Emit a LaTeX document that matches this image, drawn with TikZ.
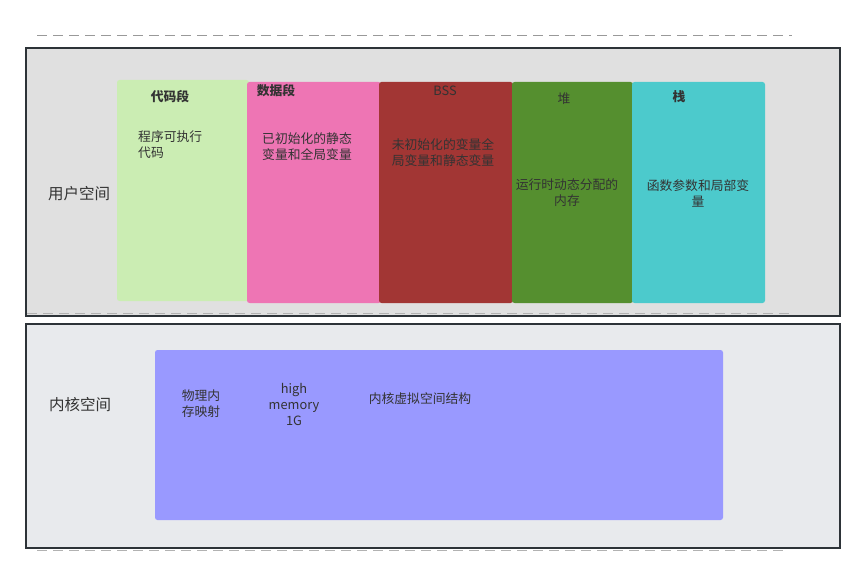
\documentclass[tikz,border=0pt]{standalone}
\usepackage{fontspec}
\setmainfont{Noto Sans CJK SC}
\begin{document}
\begin{tikzpicture}[x=1pt,y=-1pt,
  seg/.style={rounded corners=2.5pt, draw=none},
  txt/.style={font=\fontsize{12.8}{16}\selectfont, text=black!80, align=center, inner sep=0pt},
  boldtxt/.style={txt, font=\fontsize{12.8}{16}\selectfont\bfseries},
  lbl/.style={font=\fontsize{15.5}{18}\selectfont, text=black!80, inner sep=0pt},
  dashline/.style={draw=gray!80, dashed, dash pattern=on 10pt off 6pt, line width=0.9pt},
  region/.style={draw=bord, line width=1.6pt, minimum width=814pt, anchor=north west, inner sep=0pt}
]
\definecolor{ugray}{HTML}{E0E0E0}
\definecolor{kgray}{HTML}{E8EAED}
\definecolor{cgreen}{HTML}{CBEDB3}
\definecolor{cpink}{HTML}{EE75B4}
\definecolor{cred}{HTML}{A23634}
\definecolor{cgreen2}{HTML}{558F2F}
\definecolor{ccyan}{HTML}{4CCACC}
\definecolor{cviolet}{HTML}{9999FF}
\definecolor{bord}{HTML}{2D3338}
\useasboundingbox (0,0) rectangle (864,585);
\fill[white] (0,0) rectangle (864,585);
% top dashed line
\coordinate (d1a) at (37,35); \coordinate (d1b) at (792,35);
\draw[dashline] (d1a) -- (d1b);
% user space
\node[region, fill=ugray, minimum height=268pt] (user) at (25,47) {};
\coordinate (d2a) at (27,313); \coordinate (d2b) at (792,313);
\draw[dashline, draw=gray!60] (d2a) -- (d2b);
% kernel space
\node[region, fill=kgray, minimum height=224pt] (kern) at (25,323) {};
\coordinate (d3a) at (37,550); \coordinate (d3b) at (785,550);
\draw[dashline, draw=gray!60] (d3a) -- (d3b);
% segments
\fill[seg, cgreen] (117,80) rectangle (249,301);
\fill[seg, cpink] (247,82) rectangle (381,303);
\fill[seg, cred] (379,82) rectangle (513,303);
\fill[seg, cgreen2] (512,82) rectangle (633,303);
\fill[seg, ccyan] (632,82) rectangle (765,303);
\fill[seg, cviolet] (155,350) rectangle (723,520);
% names of segments
\node[boldtxt] (n1) at (170,97) {代码段};
\node[boldtxt] (n2) at (276,91) {数据段};
\node[txt] (n3) at (445,91) {BSS};
\node[txt] (n4) at (564,99) {堆};
\node[boldtxt] (n5) at (679,97) {栈};
% descriptions
\node[txt, align=left, anchor=west] (t1) at (138,145) {程序可执行\\代码};
\node[txt] (t2) at (307,147) {已初始化的静态\\变量和全局变量};
\node[txt] (t3) at (443,153) {未初始化的变量全\\局变量和静态变量};
\node[txt] (t4) at (567,193) {运行时动态分配的\\内存};
\node[txt] (t5) at (698,193) {函数参数和局部变\\量};
% region labels
\node[lbl] (lu) at (79,194) {用户空间};
\node[lbl] (lk) at (80,405) {内核空间};
% kernel contents
\node[txt] (k1) at (201,404) {物理内\\存映射};
\node[txt] (k2) at (294,404) {high\\memory\\1G};
\node[txt] (k3) at (420,399) {内核虚拟空间结构};
\end{tikzpicture}
\end{document}
